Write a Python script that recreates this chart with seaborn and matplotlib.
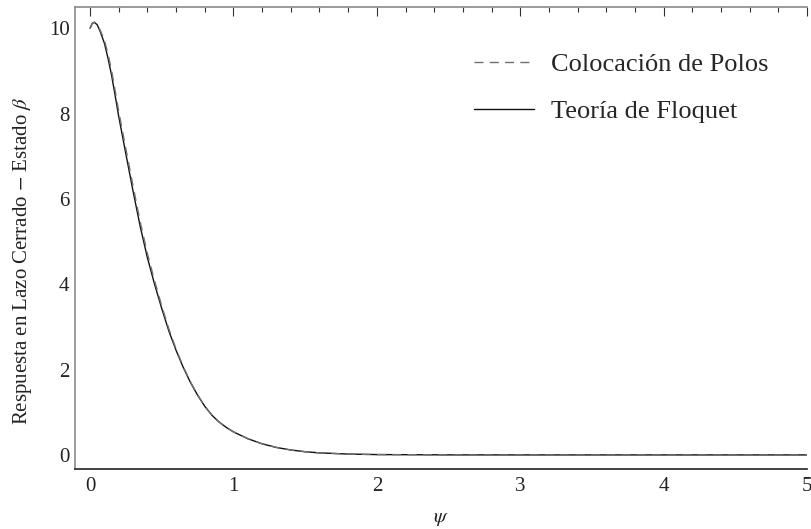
import numpy as np
import pandas as pd
import matplotlib
matplotlib.use("Agg")
import matplotlib.pyplot as plt
import seaborn as sns
from matplotlib.ticker import MultipleLocator

# ---- data ----
psi = [0, 0.015, 0.03, 0.05, 0.07, 0.1, 0.125, 0.15, 0.175, 0.2, 0.25, 0.3, 0.35,
       0.4, 0.45, 0.5, 0.55, 0.6, 0.65, 0.7, 0.75, 0.8, 0.85, 0.9, 0.95, 1.0, 1.1,
       1.2, 1.3, 1.4, 1.5, 1.6, 1.8, 2.0, 2.5, 3.0, 4.0, 5.0]
floquet = [10.0, 10.11, 10.14, 10.08, 9.93, 9.65, 9.3, 8.9, 8.42, 7.93, 7.05, 6.18, 5.35,
           4.62, 4.0, 3.43, 2.9, 2.45, 2.05, 1.7, 1.4, 1.14, 0.93, 0.77, 0.645, 0.54, 0.38,
           0.26, 0.175, 0.115, 0.075, 0.048, 0.02, 0.008, 0.001, 0.0, 0.0, 0.0]
polos = [10.0, 10.11, 10.14, 10.09, 9.96, 9.72, 9.4, 9.01, 8.54, 8.05, 7.17, 6.3, 5.46,
         4.72, 4.08, 3.49, 2.95, 2.48, 2.07, 1.71, 1.41, 1.14, 0.93, 0.77, 0.645, 0.54, 0.38,
         0.26, 0.175, 0.115, 0.075, 0.048, 0.02, 0.008, 0.001, 0.0, 0.0, 0.0]
label_polos = "Colocación de Polos"
label_floquet = "Teoría de Floquet"
xlabel = r"$\psi$"
ylabel = r"Respuesta en Lazo Cerrado $-$ Estado $\beta$"

sns.set_theme(style="white")
plt.rcParams["font.family"] = ["Liberation Serif", "DejaVu Serif"]
plt.rcParams["mathtext.fontset"] = "stix"

fig = plt.figure(figsize=(8.12, 5.29), dpi=100)
ax = fig.add_axes([75/812, 1 - 469/529, (807-75)/812, (469-7.3)/529])

df = pd.DataFrame({"psi": psi, "floquet": floquet, "polos": polos})
sns.lineplot(data=df, x="psi", y="floquet", ax=ax, color="#111111", linewidth=1.0,
             label=label_floquet, legend=False)
sns.lineplot(data=df, x="psi", y="polos", ax=ax, color="#707070", linewidth=1.0,
             linestyle=(0, (6.5, 4.5)), label=label_polos, legend=False)

ax.set_xlim(-0.105, 5.0)
ax.set_ylim(-0.33, 10.49)
ax.xaxis.set_major_locator(MultipleLocator(1))
ax.xaxis.set_minor_locator(MultipleLocator(0.2))
ax.yaxis.set_major_locator(MultipleLocator(2))
ax.yaxis.set_minor_locator(MultipleLocator(0.5))

for side in ["left", "top"]:
    ax.spines[side].set_color("#8a8a8a")
    ax.spines[side].set_linewidth(1.2)
ax.spines["bottom"].set_color("#222222")
ax.spines["bottom"].set_linewidth(1.2)
ax.spines["right"].set_visible(False)

ax.tick_params(which="both", direction="in", color="#333333", width=0.8,
               top=True, right=False, labelsize=15, labelcolor="#222222")
ax.tick_params(which="major", length=6.5)
ax.tick_params(which="minor", length=3.8)
ax.tick_params(axis="x", which="major", pad=6)
ax.tick_params(axis="y", which="major", pad=4)

ax.set_xlabel(xlabel, fontsize=15, labelpad=9, color="#222222")
ax.set_ylabel(ylabel, fontsize=15, color="#222222")
ax.yaxis.set_label_coords(-0.056, 0.45)

h = {l.get_label(): l for l in ax.get_lines()}
ax.legend([h[label_polos], h[label_floquet]], [label_polos, label_floquet],
          loc="upper left", bbox_to_anchor=(0.531, 0.925), frameon=False,
          fontsize=19, handlelength=2.25, handletextpad=0.65, labelspacing=0.9,
          borderaxespad=0.0)

ax.set_facecolor("white")
fig.patch.set_facecolor("white")
fig.savefig("out.png", dpi=100)
